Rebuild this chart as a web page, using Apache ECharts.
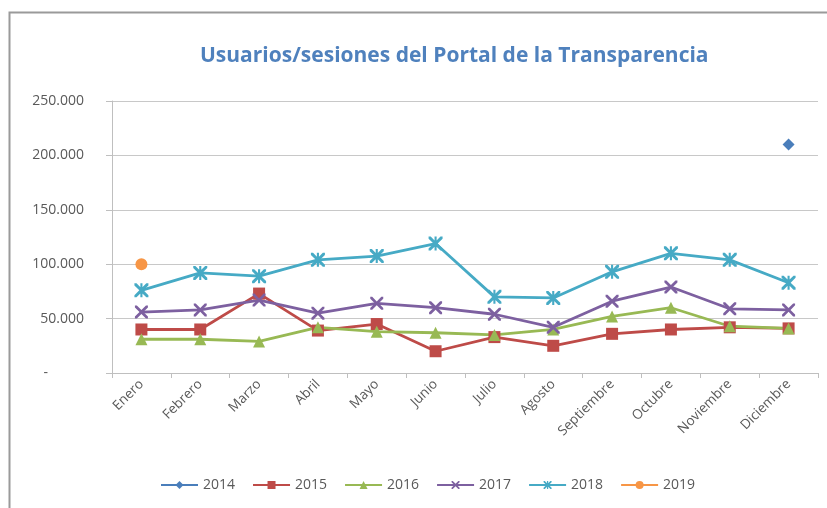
<!DOCTYPE html>
<html>
<head>
<meta charset="utf-8">
<script src="https://cdn.jsdelivr.net/npm/echarts@6/dist/echarts.min.js"></script>
<style>
  html, body { margin: 0; padding: 0; background: #fff; }
  #chart { width: 827px; height: 508px; }
</style>
</head>
<body>
<div id="chart"></div>
<script>
const months = ['Enero', 'Febrero', 'Marzo', 'Abril', 'Mayo', 'Junio', 'Julio', 'Agosto', 'Septiembre', 'Octubre', 'Noviembre', 'Diciembre'];

const y2014 = [null, null, null, null, null, null, null, null, null, null, null, 210000];
const y2015 = [40000, 40000, 73000, 39000, 45000, 20000, 33000, 25000, 36000, 40000, 42000, 41000];
const y2016 = [31000, 31000, 29000, 42000, 38000, 37000, 35000, 40000, 52000, 60000, 43000, 41000];
const y2017 = [56000, 58000, 67000, 55000, 64000, 60000, 54000, 42000, 66000, 79000, 59000, 58000];
const y2018 = [76000, 92000, 89000, 104000, 107500, 119000, 70000, 69000, 93000, 110000, 104000, 83000];
const y2019 = [100000, null, null, null, null, null, null, null, null, null, null, null];

// cross and asterisk markers as filled paths
const crossPath = 'path://M0,0L3,0L10,7L17,0L20,0L20,3L13,10L20,17L20,20L17,20L10,13L3,20L0,20L0,17L7,10L0,3Z';
const starPath = crossPath.replace('Z', 'ZM8.5,0L11.5,0L11.5,20L8.5,20Z');

const chart = echarts.init(document.getElementById('chart'));

function line(name, data, color, symbol, size) {
  return {
    name: name,
    type: 'line',
    data: data,
    symbol: symbol,
    symbolSize: size,
    showSymbol: true,
    connectNulls: false,
    lineStyle: { width: 2.8, color: color },
    itemStyle: { color: color },
    emphasis: { disabled: true }
  };
}

chart.setOption({
  animation: false,
  backgroundColor: '#fff',
  graphic: [{
    type: 'rect',
    left: 7, top: 10,
    shape: { width: 900, height: 600 },
    style: { fill: 'none', stroke: '#9a9a9a', lineWidth: 2 }
  }],
  title: {
    text: 'Usuarios/sesiones del Portal de la Transparencia',
    left: 195,
    top: 41,
    textStyle: { color: '#4F81BD', fontSize: 21, fontWeight: 'bold', fontFamily: 'Open Sans' }
  },
  legend: {
    bottom: 11,
    left: 155,
    itemWidth: 37,
    itemHeight: 10,
    itemGap: 17,
    textStyle: { color: '#595959', fontSize: 14, fontFamily: 'Open Sans' },
    data: ['2014', '2015', '2016', '2017', '2018', '2019']
  },
  grid: { left: 112, right: 9, top: 101, bottom: 135 },
  xAxis: {
    type: 'category',
    data: months,
    boundaryGap: true,
    axisLine: { lineStyle: { color: '#bfbfbf', width: 1 } },
    axisTick: { show: true, length: 5, lineStyle: { color: '#bfbfbf' } },
    axisLabel: { rotate: 45, color: '#595959', fontSize: 13.5, fontFamily: 'Open Sans', margin: 9 }
  },
  yAxis: {
    type: 'value',
    min: 0,
    max: 250000,
    interval: 50000,
    axisLine: { show: true, lineStyle: { color: '#bfbfbf' } },
    axisTick: { show: true, length: 6, lineStyle: { color: '#bfbfbf' } },
    splitLine: { lineStyle: { color: '#c8c8c8', width: 1 } },
    axisLabel: {
      color: '#595959',
      fontSize: 14,
      fontFamily: 'Open Sans',
      margin: 28,
      formatter: function (v) {
        if (v === 0) return '{z|-}';
        return v.toLocaleString('de-DE');
      },
      rich: { z: { padding: [0, 36, 0, 0], color: '#595959', fontSize: 14 } }
    }
  },
  series: [
    line('2014', y2014, '#4A7EBB', 'diamond', 12),
    line('2015', y2015, '#BE4B48', 'rect', 12),
    line('2016', y2016, '#98B954', 'triangle', 12),
    line('2017', y2017, '#7D60A0', crossPath, 13),
    line('2018', y2018, '#46AAC5', starPath, 14),
    line('2019', y2019, '#F79646', 'circle', 12)
  ]
});
</script>
</body>
</html>
